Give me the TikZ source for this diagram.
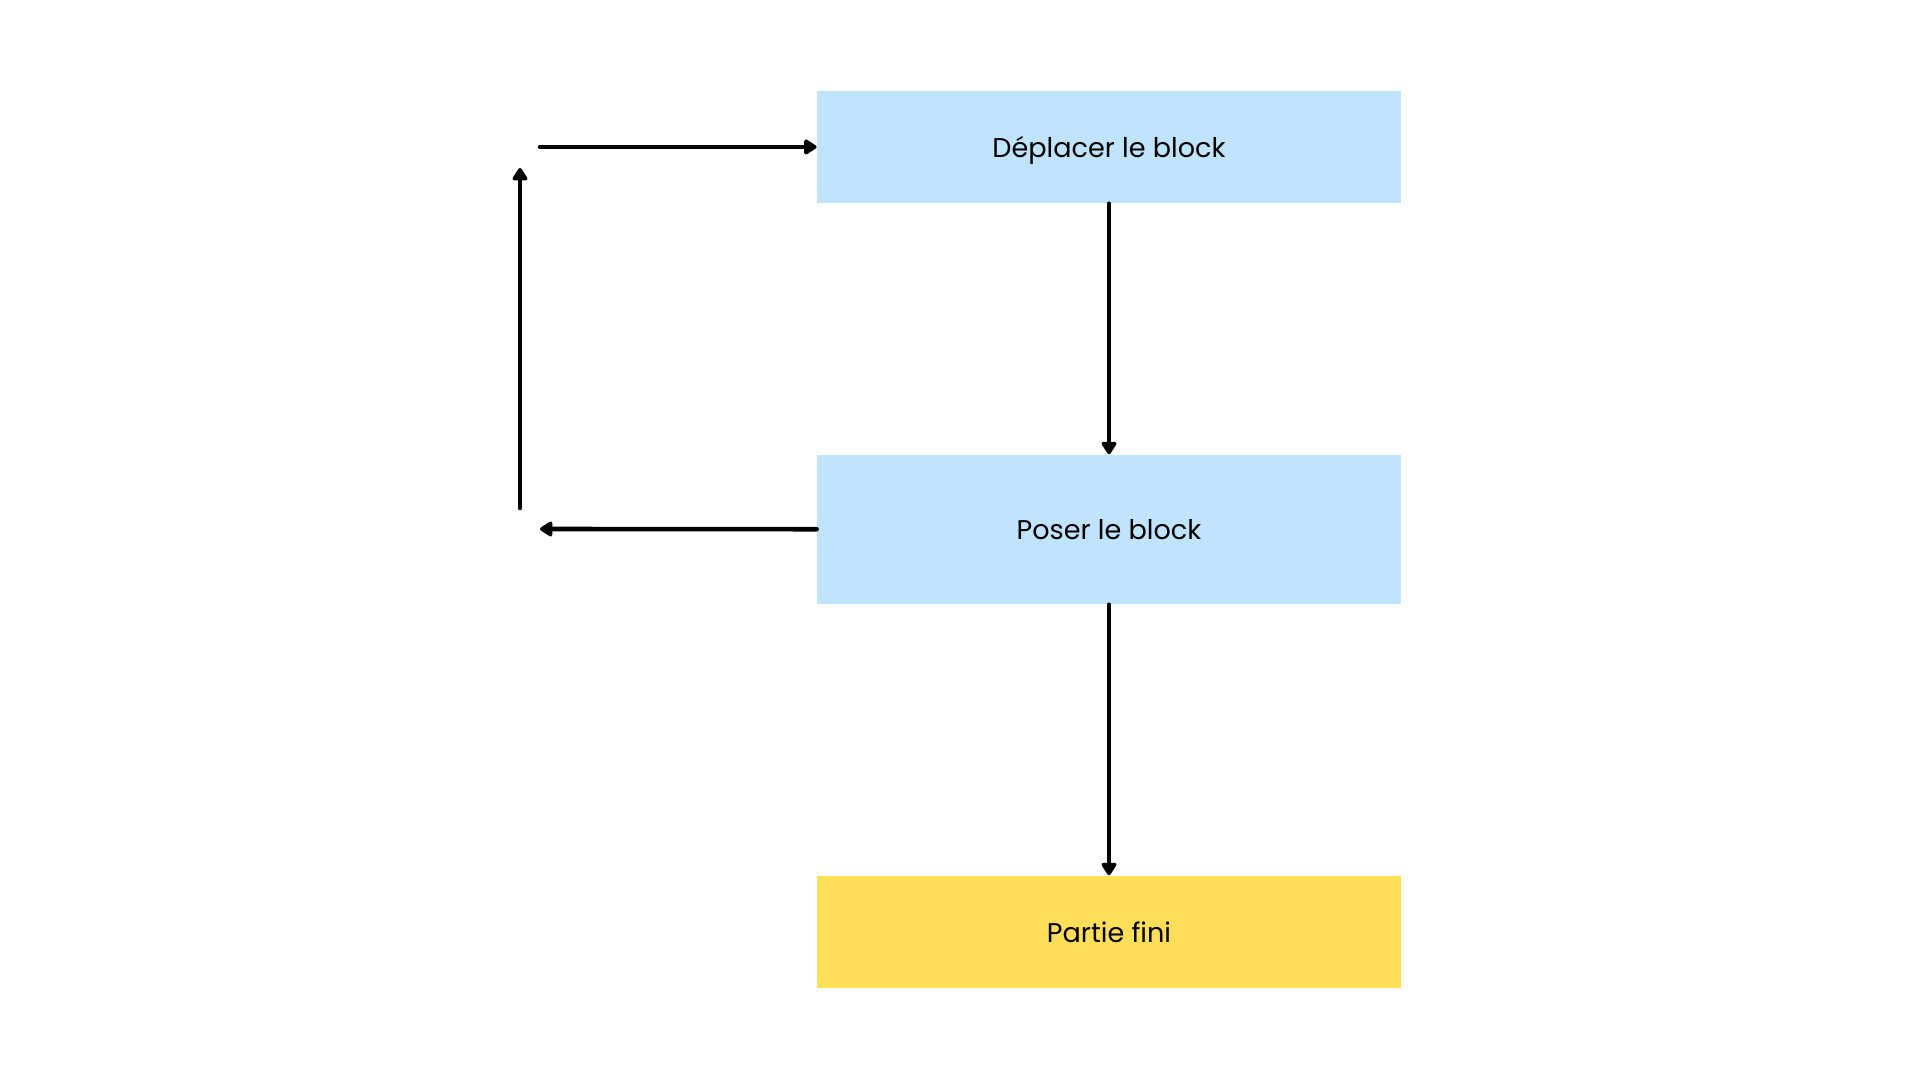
\documentclass[tikz,border=0pt]{standalone}
\usepackage{fontspec}
\setmainfont{Poppins}
\usetikzlibrary{arrows.meta}

\definecolor{stepblue}{HTML}{C0E4FE}
\definecolor{stepyellow}{HTML}{FFDE59}

\begin{document}
\begin{tikzpicture}[x=0.01cm, y=-0.01cm,
	box/.style={rectangle, minimum width=5.83cm, inner sep=0pt, text depth=0pt, font=\fontsize{7.7}{9}\selectfont},
	flow/.style={line width=1.3pt, line cap=round, -{Triangle[length=4pt, width=4.8pt, round]}}]
	\useasboundingbox (0,0) rectangle (1920,1080);
	\node[box, fill=stepblue,   minimum height=1.12cm] (move) at (1109,147)   {Déplacer le block};
	\node[box, fill=stepblue,   minimum height=1.49cm] (put)  at (1109,529.5) {Poser le block};
	\node[box, fill=stepyellow, minimum height=1.12cm] (end)  at (1109,932)   {Partie fini};
	\coordinate (backin)  at (540,529);
	\coordinate (upbot)   at (520,508);
	\coordinate (uptop)   at (520,168);
	\coordinate (backout) at (540,147);
	\foreach \from/\to in {
		move/put, put/end,
		put/backin, upbot/uptop, backout/move}
	\draw[flow] (\from) -- (\to);
\end{tikzpicture}
\end{document}
